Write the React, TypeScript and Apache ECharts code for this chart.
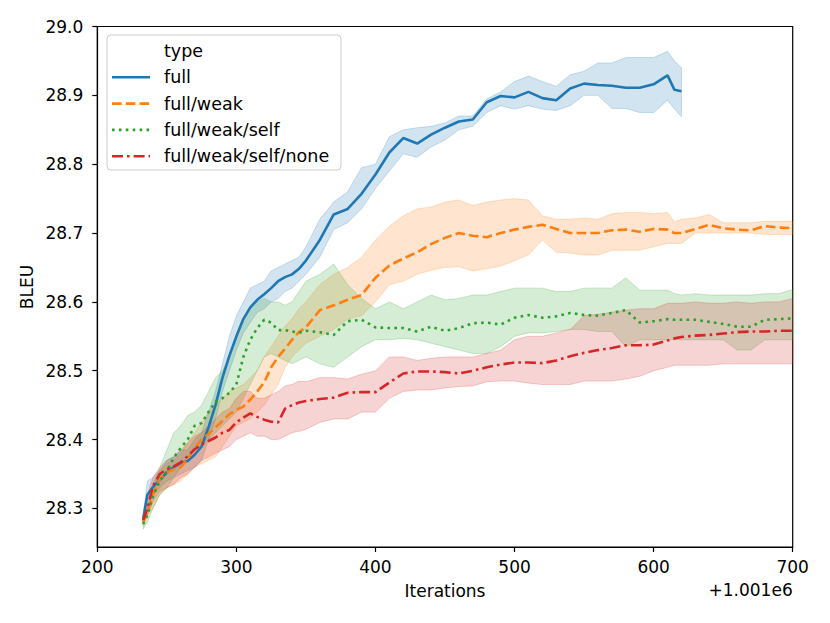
import React, { useEffect, useRef } from "react";
import * as echarts from "echarts";

// Iterations (offset +1.001e6)
const X = [233, 236, 240, 245, 250, 255, 260, 265, 270, 275, 280, 285, 290, 295, 300, 305, 310, 315, 320, 325, 330, 335, 340, 345, 350,
  360, 370, 380, 390, 400, 410, 420, 430, 440, 450, 460, 470, 480, 490, 500, 510, 520, 530, 540, 550, 560, 570, 580, 590, 600, 610,
  615, 620, 630, 640, 650, 660, 670, 680, 690, 700];

const FULL_MEAN = [28.285, 28.32, 28.331, 28.342, 28.352, 28.36, 28.366, 28.369, 28.378, 28.39, 28.418, 28.45, 28.49, 28.522, 28.55, 28.575, 28.592, 28.603, 28.611, 28.62, 28.63, 28.636, 28.64, 28.648, 28.66,
  28.69, 28.727, 28.735, 28.757, 28.785, 28.817, 28.838, 28.83, 28.843, 28.853, 28.862, 28.865, 28.89, 28.899, 28.897, 28.905, 28.896, 28.893, 28.91, 28.917, 28.915, 28.914, 28.911, 28.911, 28.916, 28.929,
  28.908, 28.906];
const FULL_LO = [28.28, 28.30, 28.32, 28.33, 28.34, 28.345, 28.35, 28.355, 28.36, 28.37, 28.40, 28.43, 28.47, 28.50, 28.53, 28.555, 28.57, 28.585, 28.59, 28.60, 28.605, 28.615, 28.62, 28.63, 28.64,
  28.665, 28.705, 28.715, 28.735, 28.765, 28.79, 28.815, 28.81, 28.825, 28.835, 28.85, 28.855, 28.875, 28.885, 28.88, 28.885, 28.88, 28.878, 28.885, 28.9, 28.9, 28.881, 28.881, 28.875, 28.875, 28.893,
  28.88, 28.869];
const FULL_HI = [28.29, 28.34, 28.345, 28.355, 28.37, 28.375, 28.385, 28.385, 28.40, 28.41, 28.44, 28.47, 28.51, 28.55, 28.58, 28.60, 28.62, 28.625, 28.63, 28.645, 28.65, 28.655, 28.66, 28.665, 28.68,
  28.72, 28.745, 28.76, 28.795, 28.80, 28.84, 28.85, 28.853, 28.855, 28.86, 28.87, 28.87, 28.895, 28.905, 28.92, 28.928, 28.92, 28.913, 28.93, 28.935, 28.947, 28.947, 28.955, 28.955, 28.955, 28.964,
  28.95, 28.94];

const WEAK_MEAN = [28.28, 28.295, 28.32, 28.343, 28.352, 28.357, 28.36, 28.372, 28.388, 28.40, 28.408, 28.418, 28.427, 28.437, 28.443, 28.448, 28.458, 28.47, 28.483, 28.505, 28.52, 28.532, 28.545, 28.556, 28.563,
  28.588, 28.595, 28.603, 28.61, 28.635, 28.653, 28.663, 28.672, 28.684, 28.693, 28.70, 28.696, 28.694, 28.70, 28.705, 28.709, 28.712, 28.706, 28.70, 28.70, 28.70, 28.704, 28.705, 28.702, 28.706, 28.705,
  28.70, 28.70, 28.706, 28.712, 28.707, 28.705, 28.704, 28.71, 28.708, 28.707];
const WEAK_LO = [28.275, 28.29, 28.30, 28.32, 28.33, 28.335, 28.34, 28.35, 28.36, 28.365, 28.37, 28.375, 28.39, 28.405, 28.42, 28.425, 28.43, 28.44, 28.45, 28.465, 28.48, 28.505, 28.52, 28.53, 28.54,
  28.55, 28.56, 28.575, 28.58, 28.60, 28.625, 28.63, 28.64, 28.646, 28.65, 28.651, 28.645, 28.648, 28.652, 28.66, 28.668, 28.69, 28.672, 28.671, 28.668, 28.668, 28.675, 28.675, 28.675, 28.68, 28.685,
  28.685, 28.685, 28.70, 28.70, 28.70, 28.70, 28.70, 28.698, 28.698, 28.698];
const WEAK_HI = [28.285, 28.305, 28.33, 28.355, 28.365, 28.37, 28.38, 28.395, 28.41, 28.425, 28.44, 28.45, 28.46, 28.47, 28.475, 28.48, 28.49, 28.50, 28.52, 28.535, 28.55, 28.565, 28.575, 28.59, 28.60,
  28.625, 28.64, 28.65, 28.665, 28.69, 28.71, 28.725, 28.735, 28.738, 28.745, 28.748, 28.74, 28.745, 28.748, 28.75, 28.748, 28.725, 28.72, 28.72, 28.722, 28.72, 28.728, 28.73, 28.73, 28.728, 28.73,
  28.716, 28.72, 28.722, 28.727, 28.715, 28.715, 28.715, 28.717, 28.717, 28.717];

const SELF_MEAN = [28.277, 28.29, 28.318, 28.34, 28.354, 28.374, 28.388, 28.40, 28.42, 28.424, 28.44, 28.455, 28.46, 28.468, 28.48, 28.52, 28.545, 28.562, 28.574, 28.57, 28.559, 28.559, 28.557, 28.555, 28.558,
  28.556, 28.552, 28.572, 28.574, 28.563, 28.562, 28.562, 28.557, 28.564, 28.558, 28.562, 28.569, 28.57, 28.567, 28.577, 28.581, 28.577, 28.579, 28.584, 28.581, 28.58, 28.584, 28.588, 28.57, 28.572, 28.575,
  28.574, 28.574, 28.574, 28.571, 28.568, 28.564, 28.564, 28.574, 28.575, 28.576];
const SELF_LO = [28.27, 28.28, 28.30, 28.32, 28.33, 28.345, 28.36, 28.375, 28.39, 28.39, 28.40, 28.41, 28.42, 28.43, 28.44, 28.46, 28.48, 28.50, 28.52, 28.525, 28.52, 28.515, 28.51, 28.515, 28.52,
  28.51, 28.505, 28.52, 28.535, 28.545, 28.545, 28.547, 28.545, 28.54, 28.535, 28.53, 28.525, 28.525, 28.535, 28.55, 28.555, 28.555, 28.557, 28.56, 28.56, 28.557, 28.557, 28.535, 28.545, 28.545, 28.545,
  28.545, 28.545, 28.545, 28.545, 28.545, 28.53, 28.53, 28.545, 28.545, 28.545];
const SELF_HI = [28.285, 28.30, 28.335, 28.36, 28.385, 28.41, 28.42, 28.435, 28.44, 28.45, 28.47, 28.49, 28.50, 28.52, 28.545, 28.575, 28.59, 28.60, 28.605, 28.60, 28.60, 28.595, 28.60, 28.615, 28.63,
  28.64, 28.655, 28.625, 28.605, 28.59, 28.60, 28.59, 28.60, 28.61, 28.603, 28.605, 28.61, 28.61, 28.615, 28.62, 28.62, 28.62, 28.615, 28.615, 28.62, 28.62, 28.62, 28.635, 28.617, 28.617, 28.617,
  28.612, 28.61, 28.612, 28.61, 28.61, 28.61, 28.61, 28.612, 28.612, 28.618];

const NONE_MEAN = [28.283, 28.30, 28.333, 28.35, 28.357, 28.361, 28.367, 28.376, 28.386, 28.393, 28.398, 28.403, 28.41, 28.414, 28.425, 28.432, 28.438, 28.433, 28.429, 28.426, 28.425, 28.445, 28.45, 28.454, 28.456,
  28.459, 28.461, 28.468, 28.469, 28.469, 28.483, 28.496, 28.499, 28.499, 28.498, 28.496, 28.50, 28.505, 28.509, 28.512, 28.512, 28.511, 28.515, 28.521, 28.526, 28.53, 28.533, 28.537, 28.537, 28.538, 28.544,
  28.547, 28.549, 28.551, 28.552, 28.554, 28.556, 28.557, 28.557, 28.558, 28.558];
const NONE_LO = [28.278, 28.29, 28.31, 28.325, 28.33, 28.335, 28.345, 28.35, 28.36, 28.37, 28.375, 28.38, 28.385, 28.39, 28.40, 28.405, 28.41, 28.405, 28.405, 28.40, 28.40, 28.405, 28.41, 28.412, 28.415,
  28.425, 28.43, 28.43, 28.44, 28.44, 28.46, 28.47, 28.472, 28.472, 28.475, 28.477, 28.478, 28.484, 28.485, 28.485, 28.482, 28.48, 28.48, 28.48, 28.485, 28.485, 28.485, 28.488, 28.492, 28.50, 28.505,
  28.508, 28.508, 28.508, 28.508, 28.51, 28.51, 28.51, 28.51, 28.51, 28.51];
const NONE_HI = [28.288, 28.32, 28.345, 28.36, 28.37, 28.375, 28.385, 28.395, 28.405, 28.41, 28.42, 28.43, 28.44, 28.445, 28.46, 28.47, 28.47, 28.46, 28.46, 28.465, 28.47, 28.478, 28.48, 28.485, 28.484,
  28.49, 28.49, 28.488, 28.495, 28.50, 28.52, 28.52, 28.515, 28.518, 28.52, 28.52, 28.52, 28.525, 28.53, 28.545, 28.55, 28.55, 28.555, 28.56, 28.58, 28.582, 28.585, 28.588, 28.59, 28.59, 28.598,
  28.598, 28.598, 28.60, 28.598, 28.598, 28.60, 28.598, 28.60, 28.60, 28.605];

const TYPES = ["full", "full/weak", "full/weak/self", "full/weak/self/none"];
const Y_TICKS = [28.3, 28.4, 28.5, 28.6, 28.7, 28.8, 28.9, 29.0];
const X_TICKS = [200, 300, 400, 500, 600, 700];

const COLORS = ["#1f77b4", "#ff7f0e", "#2ca02c", "#d62728"];
const DASHES: (number[] | "solid")[] = ["solid", [9.6, 4.2], [2.6, 4.3], [11, 4, 2.6, 4]];
const FONT = "DejaVu Sans";

function rgba(hex: string, a: number) {
  const n = parseInt(hex.slice(1), 16);
  return `rgba(${(n >> 16) & 255},${(n >> 8) & 255},${n & 255},${a})`;
}

function seriesFor(idx: number, mean: number[], lo: number[], hi: number[]) {
  const c = COLORS[idx];
  const name = TYPES[idx];
  const bandData = lo.map((v, i) => [X[i], v, hi[i]]);
  return [
    {
      type: "custom", name: name + " band", silent: true,
      data: bandData,
      encode: { x: 0, y: [1, 2] },
      renderItem: (params: any, api: any) => {
        if (params.dataIndex !== 0) return null;
        const pts: number[][] = [];
        for (let i = 0; i < bandData.length; i++) pts.push(api.coord([bandData[i][0], bandData[i][1]]));
        for (let i = bandData.length - 1; i >= 0; i--) pts.push(api.coord([bandData[i][0], bandData[i][2]]));
        return {
          type: "polygon",
          shape: { points: pts },
          style: { fill: rgba(c, 0.2), stroke: rgba(c, 0.22), lineWidth: 1 },
        };
      },
    },
    {
      type: "line", name, silent: true, symbol: "none",
      data: mean.map((v, i) => [X[i], v]),
      lineStyle: { color: c, width: 2.6, type: DASHES[idx], cap: "butt" },
    },
  ];
}

export default function App() {
  const ref = useRef<HTMLDivElement>(null);
  useEffect(() => {
    const chart = echarts.init(ref.current!, undefined, { renderer: "svg" });
    const txt = (text: string, x: number, y: number, align: string, extra: any = {}) => ({
      type: "text", x, y, z: 101, ...extra,
      style: { text, fontSize: 17, fontFamily: FONT, fill: "#000", align, verticalAlign: "middle" },
    });
    const legendRows = TYPES.map((t, i) => {
      const y = 77.3 + i * 26.3;
      const d = DASHES[i];
      return [
        {
          type: "line", z: 101, shape: { x1: 112, y1: y, x2: 150, y2: y },
          style: { stroke: COLORS[i], lineWidth: 2.6, lineDash: d === "solid" ? null : d },
        },
        { ...txt(t, 164, y, "left"), style: { text: t, fontSize: 17.5, fontFamily: FONT, fill: "#000", align: "left", verticalAlign: "middle" } },
      ];
    }).flat();

    chart.setOption({
      animation: false,
      grid: { left: 97.3, right: 37.3, top: 26.5, bottom: 76, show: true, borderColor: "#000", borderWidth: 1.2, backgroundColor: "transparent" },
      xAxis: {
        type: "value", min: 200, max: 700, interval: 100,
        axisLine: { show: true, lineStyle: { color: "#000", width: 1.2 } },
        axisTick: { show: true, length: 5, lineStyle: { color: "#000", width: 1.2 }, customValues: X_TICKS },
        axisLabel: { color: "#000", fontSize: 17, fontFamily: FONT, margin: 11, customValues: X_TICKS },
        splitLine: { show: false },
      },
      yAxis: {
        type: "value", min: 28.244, max: 29.0,
        axisLine: { show: true, lineStyle: { color: "#000", width: 1.2 } },
        axisTick: { show: true, length: 5, lineStyle: { color: "#000", width: 1.2 }, customValues: Y_TICKS },
        axisLabel: {
          color: "#000", fontSize: 17, fontFamily: FONT, margin: 14, customValues: Y_TICKS,
          formatter: (v: number) => v.toFixed(1),
        },
        splitLine: { show: false },
      },
      series: [
        ...seriesFor(0, FULL_MEAN, FULL_LO, FULL_HI),
        ...seriesFor(1, WEAK_MEAN, WEAK_LO, WEAK_HI),
        ...seriesFor(2, SELF_MEAN, SELF_LO, SELF_HI),
        ...seriesFor(3, NONE_MEAN, NONE_LO, NONE_HI),
      ],
      graphic: [
        txt("BLEU", 27, 287, "center", { rotation: Math.PI / 2 }),
        txt("Iterations", 445, 591, "center"),
        txt("+1.001e6", 792.7, 590, "right"),
        {
          type: "rect", shape: { x: 107, y: 35, width: 234, height: 135, r: 4 }, z: 100,
          style: { fill: "rgba(255,255,255,0.8)", stroke: "#cccccc", lineWidth: 1 },
        },
        { ...txt("type", 164, 51, "left"), style: { text: "type", fontSize: 17.5, fontFamily: FONT, fill: "#000", align: "left", verticalAlign: "middle" } },
        ...legendRows,
      ],
    });
    return () => chart.dispose();
  }, []);
  return <div ref={ref} style={{ position: "absolute", left: 0, top: 0, width: 830, height: 623 }} />;
}
